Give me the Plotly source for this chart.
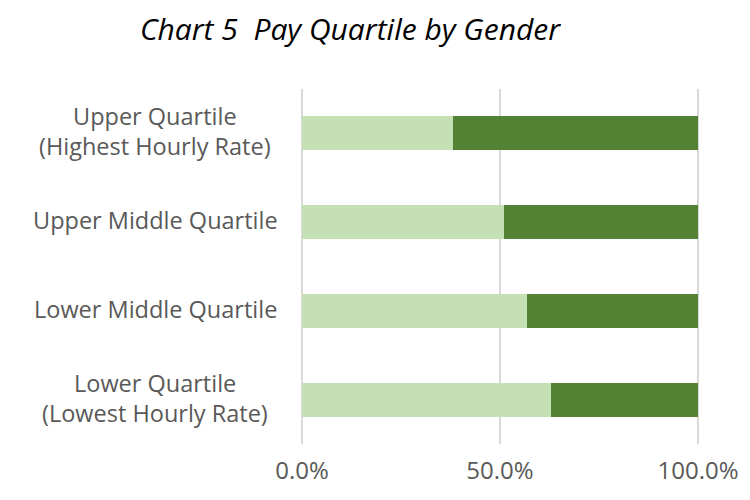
import plotly.graph_objects as go

categories = [
    "Upper Quartile<br>(Highest Hourly Rate)",
    "Upper Middle Quartile",
    "Lower Middle Quartile",
    "Lower Quartile<br>(Lowest Hourly Rate)",
]
female = [0.382, 0.509, 0.567, 0.630]
male = [0.618, 0.491, 0.433, 0.370]
tick_vals = [0, 0.5, 1.0]
tick_text = ["0.0%", "50.0%", "100.0%"]

LIGHT = "#C5E0B4"
DARK = "#548235"
FONT = "Open Sans"

fig = go.Figure()
fig.add_trace(go.Bar(y=categories, x=female, orientation="h", name="Female",
                     marker=dict(color=LIGHT, line=dict(width=0))))
fig.add_trace(go.Bar(y=categories, x=male, orientation="h", name="Male",
                     marker=dict(color=DARK, line=dict(width=0))))

annotations = []
for cat in categories:
    lines = cat.split("<br>")
    n = len(lines)
    for i, ln in enumerate(lines):
        shift = (n - 1) / 2 * 30 - i * 30 + 2
        annotations.append(dict(
            x=-0.3625, xref="paper", y=cat, yref="y", text=ln,
            showarrow=False, xanchor="center", yanchor="middle",
            yshift=shift, font=dict(family=FONT, size=23.5, color="#595959")))

fig.update_layout(
    width=750, height=500,
    barmode="stack", bargap=0.617,
    showlegend=False,
    plot_bgcolor="white", paper_bgcolor="white",
    margin=dict(l=292, r=58, t=81, b=64),
    title=dict(text="Chart 5  Pay Quartile by Gender", x=0.456, xanchor="center",
               y=0.958, yanchor="middle", yref="container",
               font=dict(family=FONT, size=30, color="black", style="italic")),
    annotations=annotations,
    font=dict(family=FONT),
)
fig.update_xaxes(range=[-0.005, 1.005], tickvals=tick_vals, ticktext=tick_text,
                 showgrid=True, gridcolor="#D9D9D9", gridwidth=2,
                 zeroline=False, showline=False,
                 ticks="outside", ticklen=5, tickcolor="rgba(0,0,0,0)",
                 tickfont=dict(family=FONT, size=24, color="#595959"))
fig.update_yaxes(autorange="reversed", showticklabels=False, showgrid=False,
                 zeroline=False, showline=False)
fig.write_html("out.html")
